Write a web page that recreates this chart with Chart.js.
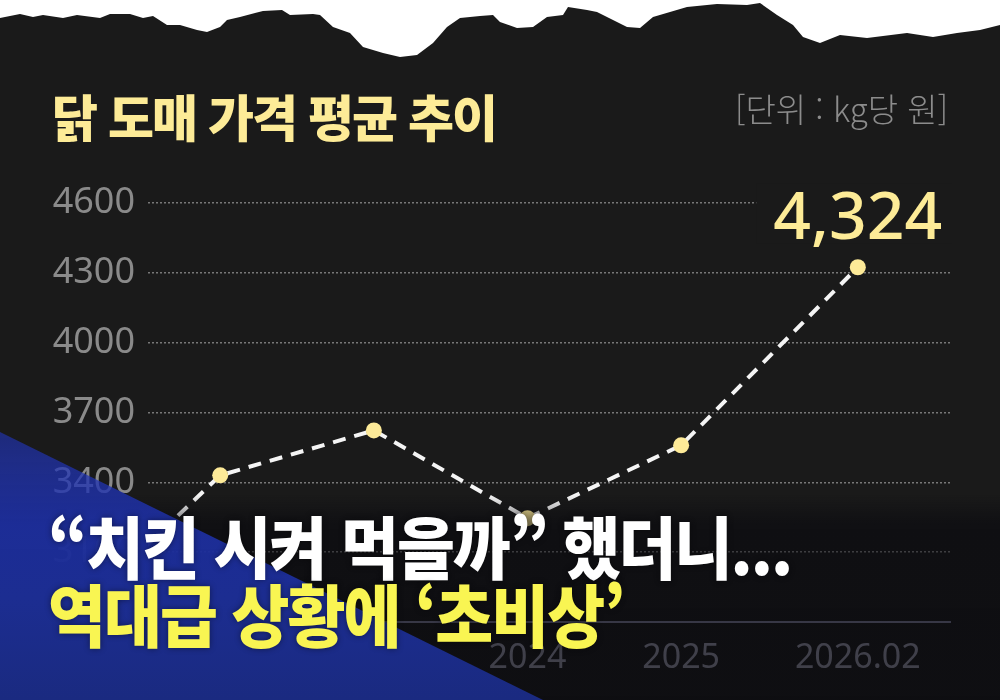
<!DOCTYPE html>
<html lang="ko">
<head>
<meta charset="utf-8">
<title>닭 도매 가격 평균 추이</title>
<script src="https://cdn.jsdelivr.net/npm/chart.js@4.4.1/dist/chart.umd.min.js"></script>
<style>
  html, body { margin: 0; padding: 0; background: #1a1a1a; }
  #wrap {
    position: relative; width: 1000px; height: 700px; overflow: hidden;
    background: #1a1a1a; font-family: "Noto Sans CJK KR", "Noto Sans", sans-serif;
  }
  #chart-box { position: absolute; left: 0; top: 0; width: 1000px; height: 700px; }
  .title {
    position: absolute; left: 52px; top: 90px; line-height: 1;
    font-size: 50px; font-weight: 900; color: #fdeb97; white-space: nowrap;
    letter-spacing: -2px;
  }
  .unit {
    position: absolute; right: 52px; top: 92px; line-height: 1;
    font-size: 33px; font-weight: 300; color: #8c8c8c; white-space: nowrap;
  }
  .shade {
    position: absolute; left: 0; top: 495px; width: 1000px; height: 205px;
    background: linear-gradient(to bottom, rgba(6,6,12,0) 0px, rgba(6,6,12,0.5) 30px, rgba(6,6,12,0.58) 100%);
  }
  svg.deco { position: absolute; left: 0; top: 0; }
  .headline {
    position: absolute; left: 48px; line-height: 1; font-weight: 900;
    white-space: nowrap; transform-origin: 0 0; transform: scaleY(1.08);
    text-shadow: 0 0 6px rgba(0,0,0,0.45);
  }
  .line1 { top: 510px; font-size: 63px; color: #ffffff; letter-spacing: -2px; }
  .line2 { top: 578px; font-size: 63px; color: #f9f552; letter-spacing: -2px; }
</style>
</head>
<body>
<div id="wrap">
  <div id="chart-box"><canvas id="price-chart" width="1000" height="700"></canvas></div>
  <div class="shade"></div>
  <svg class="deco" width="1000" height="700">
    <defs>
      <linearGradient id="blue-fade" gradientUnits="userSpaceOnUse" x1="0" y1="432" x2="0" y2="700">
        <stop offset="0" stop-color="rgb(34,54,190)" stop-opacity="0.6"/>
        <stop offset="0.35" stop-color="rgb(30,48,165)" stop-opacity="0.9"/>
        <stop offset="0.62" stop-color="rgb(28,45,145)" stop-opacity="1"/>
        <stop offset="1" stop-color="rgb(26,42,128)" stop-opacity="1"/>
      </linearGradient>
    </defs>
    <polygon points="0,432 543,700 0,700" fill="url(#blue-fade)"/>
    <polygon fill="#ffffff" points="0,0 0,18 20,14 33,17 43,15 63,18 77,15 100,18 110,14 130,14 143,18 153,16 167,25 180,25 197,30 207,32 220,27 227,20 240,17 263,11 282,10 290,15 313,14 320,15 333,27 350,33 363,47 383,53 400,57 417,55 433,43 447,27 460,18 480,16 493,15 500,22 517,28 533,27 547,17 563,15 568,7 587,10 597,12 627,27 640,28 653,17 687,7 717,4 747,5 760,3 777,15 793,25 803,37 820,43 840,35 867,38 907,33 933,37 957,33 980,30 1000,25 1000,0"/>
  </svg>
  <div class="title">닭 도매 가격 평균 추이</div>
  <div class="unit">[단위 : kg당 원]</div>
  <div class="headline line1">“치킨 시켜 먹을까” 했더니...</div>
  <div class="headline line2">역대급 상황에 ‘초비상’</div>
</div>
<script>
// 연도 (2026.02는 2월 기준이라 축 위치만 조금 뒤로)
const xValues = [2021, 2022, 2023, 2024, 2025, 2026.15];
const xTickLabels = ["2021", "2022", "2023", "2024", "2025", "2026.02"];
const prices = [2800, 3430, 3623, 3246, 3559, 4324];
const yTicks = [2800, 3100, 3400, 3700, 4000, 4300, 4600];

const lastValueLabel = {
  id: "lastValueLabel",
  afterDatasetsDraw(chart) {
    const meta = chart.getDatasetMeta(0);
    const last = meta.data[meta.data.length - 1];
    const text = prices[prices.length - 1].toLocaleString("en-US");
    const ctx = chart.ctx;
    ctx.save();
    ctx.font = '500 66px "Noto Sans", sans-serif';
    const w = ctx.measureText(text).width;
    const left = last.x - w / 2 - 17;
    ctx.fillStyle = "#1a1a1a";
    ctx.fillRect(left, last.y - 84, chart.chartArea.right - left + 2, 60);
    ctx.fillStyle = "#fdeb97";
    ctx.textAlign = "center";
    ctx.textBaseline = "alphabetic";
    ctx.fillText(text, last.x, last.y - 28);
    ctx.restore();
  },
};

const points = xValues.map((x, i) => ({ x, y: prices[i] }));

new Chart(document.getElementById("price-chart"), {
  type: "line",
  data: {
    datasets: [
      {
        data: points,
        borderColor: "#f4f4f4",
        borderWidth: 4,
        borderDash: [13, 9],
        pointBackgroundColor: "#fdea98",
        pointBorderWidth: 0,
        pointRadius: 8,
        tension: 0,
      },
    ],
  },
  options: {
    responsive: false,
    animation: false,
    layout: { padding: { top: 203, right: 50, left: 0, bottom: 0 } },
    plugins: { legend: { display: false }, tooltip: { enabled: false } },
    scales: {
      x: {
        type: "linear",
        min: 2021.53,
        max: 2026.75,
        afterBuildTicks: (scale) => {
          scale.ticks = xValues
            .filter((v) => v >= scale.min && v <= scale.max)
            .map((v) => ({ value: v }));
        },
        afterFit: (scale) => { scale.height = 78; },
        ticks: {
          autoSkip: false,
          maxRotation: 0,
          padding: 8,
          color: "#8a8a99",
          font: { family: "Noto Sans", size: 34 },
          callback: (v) => xTickLabels[xValues.indexOf(v)],
        },
        grid: { display: false },
        border: { display: true, color: "#72728a", width: 2 },
      },
      y: {
        min: 2800,
        max: 4600,
        afterBuildTicks: (scale) => {
          scale.ticks = yTicks.map((v) => ({ value: v }));
        },
        afterFit: (scale) => { scale.width = 148; },
        ticks: {
          padding: 13,
          color: "#8a8a8a",
          font: { family: "Noto Sans", size: 36 },
          callback: (v) => String(v),
        },
        grid: {
          drawTicks: false,
          lineWidth: 1.5,
          color: (ctx) => (ctx.tick && ctx.tick.value === 2800 ? "rgba(0,0,0,0)" : "#777777"),
        },
        border: { display: false, dash: [2, 2] },
      },
    },
  },
  plugins: [lastValueLabel],
});
</script>
</body>
</html>
